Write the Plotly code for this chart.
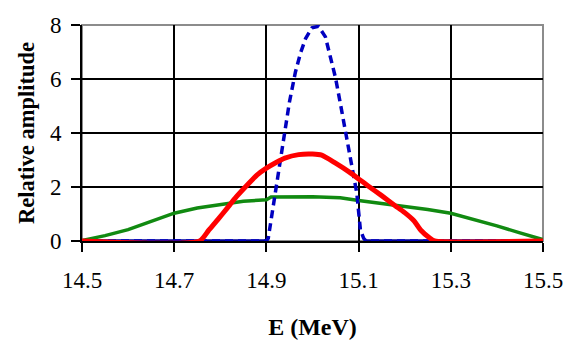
import plotly.graph_objects as go

# Energy axis ticks
x_ticks = [14.5, 14.7, 14.9, 15.1, 15.3, 15.5]
y_ticks = [0, 2, 4, 6, 8]

# Blue (dashed, narrow) series
blue_x = [14.50, 14.90, 14.904, 14.912, 14.92, 14.93, 14.941, 14.95, 14.963, 14.974,
          14.985, 14.999, 15.013, 15.028, 15.039, 15.05, 15.061, 15.072, 15.084,
          15.096, 15.104, 15.111, 15.116, 15.50]
blue_y = [0, 0, 0.1, 1.0, 1.8, 3.0, 4.2, 5.15, 6.26, 6.96,
          7.5, 7.9, 7.95, 7.56, 6.8, 6.04, 5.04, 4.0, 2.9,
          1.78, 0.4, 0.1, 0, 0]

# Red (medium) series
red_x = [14.50, 14.755, 14.775, 14.795, 14.815, 14.835, 14.86, 14.88, 14.90, 14.92,
         14.94, 14.97, 15.00, 15.02, 15.05, 15.08, 15.10, 15.12, 15.15, 15.18,
         15.20, 15.22, 15.235, 15.255, 15.265, 15.50]
red_y = [0, 0, 0.4, 0.8, 1.22, 1.64, 2.1, 2.45, 2.7, 2.9,
         3.07, 3.2, 3.22, 3.18, 2.88, 2.55, 2.3, 2.05, 1.68, 1.3,
         1.05, 0.75, 0.4, 0.1, 0, 0]

# Green (broad) series
green_x = [14.50, 14.55, 14.60, 14.65, 14.70, 14.75, 14.80, 14.85, 14.90, 14.91,
           15.00, 15.06, 15.10, 15.15, 15.20, 15.25, 15.30, 15.35, 15.40, 15.45, 15.50]
green_y = [0.02, 0.2, 0.42, 0.72, 1.03, 1.22, 1.35, 1.47, 1.53, 1.63,
           1.64, 1.6, 1.5, 1.4, 1.3, 1.17, 1.03, 0.8, 0.56, 0.3, 0.05]

BLUE = "#0000c0"
RED = "#ff0000"
GREEN = "#118a11"
FONT = "'Liberation Serif', 'Times New Roman', 'DejaVu Serif', serif"

# Blue baseline (where the dashed series sits on zero, it renders as solid)
base_x, base_y = [], []
for xv, yv in zip(blue_x, blue_y):
    if yv == 0:
        base_x.append(xv)
        base_y.append(yv)
    elif base_x and base_x[-1] is not None:
        base_x.append(None)
        base_y.append(None)

fig = go.Figure()
fig.add_trace(go.Scatter(x=base_x, y=base_y, mode="lines",
                         line=dict(color="#00009a", width=3.5), hoverinfo="skip"))
fig.add_trace(go.Scatter(x=green_x, y=green_y, mode="lines",
                         line=dict(color=GREEN, width=3.5)))
fig.add_trace(go.Scatter(x=blue_x, y=blue_y, mode="lines",
                         line=dict(color=BLUE, width=3.5, dash="8px,5px")))
fig.add_trace(go.Scatter(x=red_x, y=red_y, mode="lines",
                         line=dict(color=RED, width=5, shape="spline", smoothing=0.6)))

fig.update_layout(
    template="none",
    width=563, height=343,
    margin=dict(l=82, r=20, t=25, b=102, autoexpand=False),
    paper_bgcolor="white", plot_bgcolor="white",
    showlegend=False,
    font=dict(family=FONT, color="black", size=22),
)
fig.update_xaxes(
    range=[14.5, 15.5], tickvals=x_ticks, ticktext=[f"{v:.1f}" for v in x_ticks],
    showgrid=True, gridcolor="black", gridwidth=2,
    showline=True, linecolor="black", linewidth=2, mirror=False,
    ticks="outside", ticklen=9, tickwidth=2, tickcolor="black",
    ticklabelstandoff=8, ticklabeloverflow="allow",
    zeroline=False, automargin=False,
    tickfont=dict(family=FONT, size=23),
    title=dict(text="<b>E (MeV)</b>", font=dict(family=FONT, size=24), standoff=27),
)
fig.update_yaxes(
    range=[0, 8], tickvals=y_ticks,
    showgrid=True, gridcolor="black", gridwidth=2,
    showline=True, linecolor="black", linewidth=2,
    ticks="outside", ticklen=9, tickwidth=2, tickcolor="black",
    ticklabelstandoff=5, ticklabeloverflow="allow",
    zeroline=False, automargin=False,
    tickfont=dict(family=FONT, size=23),
    title=dict(text="<b>Relative amplitude</b>", font=dict(family=FONT, size=22.5), standoff=9),
)
# grey plot-area border on top and right
fig.add_shape(type="rect", xref="paper", yref="paper", x0=0, y0=0, x1=1, y1=1,
              line=dict(color="#8c8c8c", width=2), layer="between")

fig.write_html("out.html")
